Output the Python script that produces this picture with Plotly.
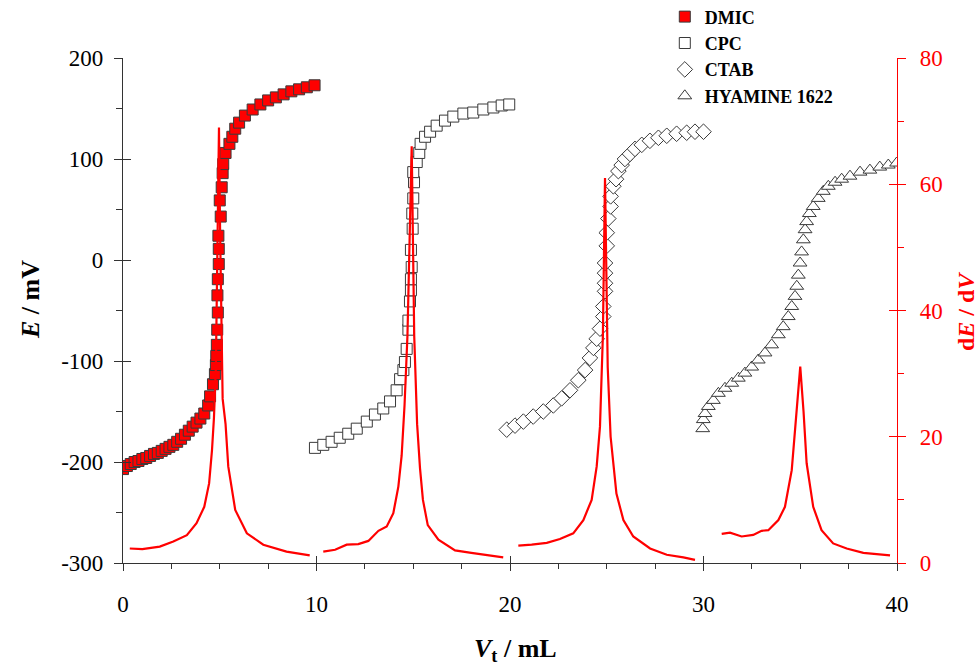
import plotly.graph_objects as go

# ---- data ----
DMIC_V = [0.0,0.2,0.4,0.6,0.8,1.0,1.2,1.4,1.6,1.8,2.0,2.2,2.4,2.6,2.8,3.0,3.2,3.4,3.6,3.8,4.0,4.2,4.4,4.5,4.65,4.75,4.8,4.82,4.85,4.87,4.9,4.88,4.9,4.95,4.95,4.93,5.05,5.0,5.1,5.15,5.18,5.3,5.5,5.65,5.8,6.0,6.3,6.7,7.1,7.5,7.9,8.3,8.7,9.1,9.5,9.9]
DMIC_E = [-207,-204,-202,-200,-199,-197,-196,-194,-192,-191,-189,-187,-185,-183,-180,-177,-173,-169,-165,-161,-157,-152,-144,-135,-123,-113,-104,-95,-84,-69,-52,-35,-19,-4,11,24,43,59,72,86,95,106,115,122,130,136,143,149,154,158,161,164,167,169,171,173]

CPC_V = [9.92,10.35,10.78,11.2,11.64,12.08,12.6,13.02,13.45,13.8,14.14,14.32,14.49,14.57,14.66,14.75,14.75,14.83,14.88,14.88,14.92,14.88,14.97,14.95,15.0,15.04,15.0,15.18,15.31,15.38,15.61,15.87,16.21,16.64,17.07,17.59,18.1,18.62,19.14,19.57,19.96]
CPC_E = [-186,-183,-180,-176,-172,-167,-160,-153,-147,-140,-129,-118,-109,-101,-88,-69,-60,-41,-30,-19,-7,10,31,46,61,77,87,97,106,115,122,127,133,138,142,145,146,149,151,153,154]

CTAB_V = [19.83,20.26,20.69,21.2,21.72,22.24,22.67,23.1,23.53,23.88,24.13,24.31,24.48,24.65,24.82,24.82,24.91,24.91,24.91,24.91,25.0,25.0,25.08,25.2,25.2,25.34,25.48,25.6,25.77,25.94,26.2,26.46,26.81,27.23,27.67,28.1,28.61,29.13,29.56,30.0]
CTAB_E = [-168,-164,-160,-155,-150,-144,-137,-129,-119,-109,-97,-87,-78,-68,-56,-46,-31,-23,-13,-3,14,27,41,53,63,73,80,88,94,100,105,110,114,118,121,123,125,126,127,127]

HYA_V = [29.96,29.99,30.08,30.25,30.51,30.77,31.11,31.46,31.8,32.14,32.49,32.83,33.18,33.52,33.87,34.12,34.38,34.56,34.73,34.82,34.9,34.99,35.07,35.16,35.25,35.33,35.47,35.67,35.93,36.19,36.45,36.8,37.14,37.57,38.09,38.6,39.11,39.55,39.98]
HYA_E = [-167,-158,-152,-145,-139,-132,-127,-122,-117,-112,-106,-99,-92,-84,-74,-66,-56,-46,-36,-26,-15,-3,8,20,30,38,46,53,61,68,73,77,80,83,87,89,92,94,96]

DMIC_dV = [0.35,1.0,1.9,2.6,3.3,3.8,4.2,4.45,4.6,4.7,4.8,4.88,4.96,5.02,5.08,5.15,5.3,5.44,5.8,6.4,7.25,8.45,9.65]
DMIC_dE = [2.3,2.2,2.6,3.4,4.4,6.3,8.9,12.6,17.9,23,31,52,69,52,36,26,22,15.3,8.4,4.7,2.9,1.8,1.2]

CPC_dV = [10.35,10.96,11.56,12.16,12.68,13.2,13.63,13.97,14.23,14.4,14.55,14.7,14.92,15.05,15.2,15.35,15.5,15.75,16.3,17.16,18.0,18.88,19.65]
CPC_dE = [1.8,2.1,2.9,3.0,3.5,5.1,5.8,7.9,12.1,17,25,36,66,36,22,15,10,6,3.7,2.0,1.6,1.2,0.9]

CTAB_dV = [20.43,21.12,21.9,22.58,23.27,23.79,24.22,24.48,24.65,24.8,24.91,25.05,25.2,25.5,25.86,26.37,27.24,28.1,28.96,29.56]
CTAB_dE = [2.75,2.9,3.2,3.8,4.7,6.8,10,15.3,21.6,36,61,31,20,11,6.8,4.2,2.3,1.3,0.9,0.5]

HYA_dV = [30.94,31.37,31.97,32.57,33.0,33.35,33.87,34.21,34.56,34.82,35.0,35.17,35.33,35.67,36.1,36.7,37.4,38.26,38.95,39.64]
HYA_dE = [4.6,4.8,4.2,4.45,5.1,5.2,6.8,8.9,14.7,23.7,31.1,24,15.8,8.9,5.2,3.1,2.3,1.6,1.4,1.2]

NAMES = ["DMIC", "CPC", "CTAB", "HYAMINE 1622"]

# tick labels (hyphen minus as in the reference)
X_TICKS = [0, 10, 20, 30, 40]
X_LABELS = ["0", "10", "20", "30", "40"]
E_TICKS = [-300, -200, -100, 0, 100, 200]
E_LABELS = ["-300", "-200", "-100", "0", "100", "200"]
D_TICKS = [0, 20, 40, 60, 80]
D_LABELS = ["0", "20", "40", "60", "80"]

SERIF = "Liberation Serif, Times New Roman, serif"
RED = "#ff0000"
AX = "#333333"

fig = go.Figure()

series = [
    (DMIC_V, DMIC_E, "square", RED, 11),
    (CPC_V, CPC_E, "square", "white", 11),
    (CTAB_V, CTAB_E, "diamond", "white", 12),
    (HYA_V, HYA_E, "triangle-up", "white", 12),
]
for (v, e, sym, fill, sz), name in zip(series, NAMES):
    fig.add_trace(go.Scatter(
        x=v, y=e, mode="markers", name=name,
        marker=dict(symbol=sym, color=fill, size=sz,
                    line=dict(color="#3a3a3a", width=1)),
        xaxis="x", yaxis="y"))

for v, d in [(DMIC_dV, DMIC_dE), (CPC_dV, CPC_dE), (CTAB_dV, CTAB_dE), (HYA_dV, HYA_dE)]:
    fig.add_trace(go.Scatter(
        x=v, y=d, mode="lines", showlegend=False,
        line=dict(color=RED, width=2.2),
        xaxis="x", yaxis="y2"))

# dummy traces to realise the inner-tick overlay axes
fig.add_trace(go.Scatter(x=[None], y=[None], xaxis="x2", yaxis="y3",
                         showlegend=False, hoverinfo="skip"))
fig.add_trace(go.Scatter(x=[None], y=[None], xaxis="x2", yaxis="y4",
                         showlegend=False, hoverinfo="skip"))

tickfont = dict(family=SERIF, size=23, color="black")

fig.update_layout(
    width=979, height=667,
    margin=dict(l=123, r=82, t=58, b=104, autoexpand=False),
    paper_bgcolor="white", plot_bgcolor="white",
    showlegend=True,
    legend=dict(x=0.70, y=1.118, xanchor="left", yanchor="top",
                bgcolor="rgba(0,0,0,0)", tracegroupgap=0,
                font=dict(family=SERIF, size=18, color="black", weight="bold")),
    xaxis=dict(range=[0, 40], tickmode="array", tickvals=X_TICKS, ticktext=X_LABELS,
               showgrid=False, zeroline=False,
               showline=True, linecolor=AX, linewidth=1.2,
               ticks="outside", ticklen=7, tickcolor=AX, tickwidth=1.2,
               minor=dict(dtick=2.5, tick0=0, ticks="outside", ticklen=5, tickcolor=AX, showgrid=False),
               tickfont=tickfont, ticklabelstandoff=13, anchor="y"),
    xaxis2=dict(range=[0, 40], dtick=10, tick0=0, overlaying="x", anchor="y3",
                showgrid=False, zeroline=False, showline=False,
                ticks="inside", ticklen=7, tickcolor=AX, tickwidth=1.2,
                showticklabels=False),
    yaxis=dict(range=[-300, 200], tickmode="array", tickvals=E_TICKS, ticktext=E_LABELS,
               showgrid=False, zeroline=False,
               showline=True, linecolor=AX, linewidth=1.2,
               ticks="outside", ticklen=8, tickcolor=AX, tickwidth=1.2,
               minor=dict(dtick=50, tick0=0, ticks="outside", ticklen=6, tickcolor=AX, showgrid=False),
               tickfont=tickfont, ticklabelstandoff=6, anchor="x"),
    yaxis2=dict(range=[0, 80], tickmode="array", tickvals=D_TICKS, ticktext=D_LABELS,
                overlaying="y", side="right",
                showgrid=False, zeroline=False,
                showline=True, linecolor=RED, linewidth=1.2,
                ticks="outside", ticklen=8, tickcolor=RED, tickwidth=1.2,
                minor=dict(dtick=10, tick0=0, ticks="outside", ticklen=6, tickcolor=RED, showgrid=False),
                tickfont=dict(family=SERIF, size=23, color=RED),
                ticklabelstandoff=9, anchor="x"),
    yaxis3=dict(range=[-300, 200], dtick=100, tick0=0, overlaying="y", side="left",
                anchor="x2", showgrid=False, zeroline=False, showline=False,
                ticks="inside", ticklen=8, tickcolor=AX, tickwidth=1.2,
                showticklabels=False),
    yaxis4=dict(range=[0, 80], dtick=20, tick0=0, overlaying="y", side="right",
                anchor="x2", showgrid=False, zeroline=False, showline=False,
                ticks="inside", ticklen=8, tickcolor=RED, tickwidth=1.2,
                showticklabels=False),
)

W, H = 774.0, 505.0
def px_x(p):
    return (p - 123) / W
def px_y(p):
    return (563 - p) / H

fig.add_annotation(text="<b><i>E</i> / mV</b>", textangle=-90,
                   x=px_x(30), y=px_y(300), xref="paper", yref="paper",
                   xanchor="center", yanchor="middle", showarrow=False,
                   font=dict(family=SERIF, size=26, color="black"))
fig.add_annotation(text="<b><i>V</i><sub>t</sub> / mL</b>",
                   x=px_x(515), y=px_y(650), xref="paper", yref="paper",
                   xanchor="center", yanchor="middle", showarrow=False,
                   font=dict(family=SERIF, size=26, color="black"))
fig.add_annotation(text="<b>d<i>E</i> / d<i>V</i></b>", textangle=-90,
                   x=px_x(966), y=px_y(312), xref="paper", yref="paper",
                   xanchor="center", yanchor="middle", showarrow=False,
                   font=dict(family=SERIF, size=24, color=RED))

fig.write_html("out.html")
